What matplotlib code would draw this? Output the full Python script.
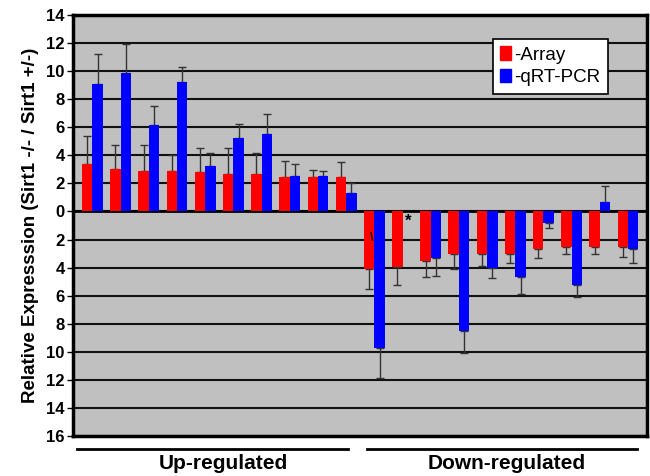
import numpy as np
import matplotlib
matplotlib.use("Agg")
import matplotlib.pyplot as plt
from matplotlib.lines import Line2D
from matplotlib.patches import Patch
from matplotlib.ticker import FuncFormatter

plt.rcParams["font.family"] = ["Liberation Sans", "DejaVu Sans"]

# --- data ---
array_vals = [3.4, 3.0, 2.9, 2.9, 2.8, 2.7, 2.7, 2.45, 2.45, 2.45,
              -4.1, -3.95, -3.5, -3.0, -3.0, -3.0, -2.65, -2.55, -2.5, -2.5]
array_err = [2.0, 1.75, 1.85, 1.1, 1.75, 1.85, 1.5, 1.15, 0.5, 1.05,
             1.45, 1.3, 1.2, 1.1, 0.9, 0.65, 0.65, 0.5, 0.55, 0.75]
pcr_vals = [9.05, 9.85, 6.15, 9.25, 3.25, 5.2, 5.55, 2.5, 2.5, 1.3,
            -9.75, np.nan, -3.35, -8.5, -4.0, -4.65, -0.8, -5.25, 0.65, -2.65]
pcr_err = [2.2, 2.05, 1.35, 1.05, 0.9, 1.05, 1.4, 0.9, 0.35, 0.75,
           2.1, np.nan, 1.25, 1.55, 0.75, 1.25, 0.4, 0.85, 1.15, 1.05]
series_names = ["-Array", "-qRT-PCR"]
group_names = ["Up-regulated", "Down-regulated"]

array_vals = np.array(array_vals)
array_err = np.array(array_err)
pcr_vals = np.array(pcr_vals)
pcr_err = np.array(pcr_err)
x = np.arange(len(array_vals))
w = 0.37


def one_sided(vals, err):
    # error bar only points away from zero
    lo = np.where(vals < 0, err, 0)
    hi = np.where(vals >= 0, err, 0)
    return [lo, hi]


fig = plt.figure(figsize=(6.5, 4.76), dpi=100)
ax = fig.add_axes([0.1123, 0.084, 0.883, 0.8845])
ax.set_facecolor("#c0c0c0")

ax.bar(x - w / 2, array_vals, w, color="#ff0000", zorder=3)
ax.bar(x + w / 2, pcr_vals, w, color="#0000ff", zorder=3)
ax.errorbar(x - w / 2, array_vals, yerr=one_sided(array_vals, array_err),
            fmt="none", ecolor="#333333", elinewidth=1, capsize=3, zorder=2)
ax.errorbar(x + w / 2, pcr_vals, yerr=one_sided(pcr_vals, pcr_err),
            fmt="none", ecolor="#333333", elinewidth=1, capsize=3, zorder=2)

# missing qRT-PCR value marked with an asterisk
ax.text(x[11] + w / 2, -0.15, "*", ha="center", va="top",
        fontsize=12, fontweight="bold", zorder=4)
ax.text(x[10] - w / 2 + 0.1, -1.9, "\\", ha="center", va="center",
        fontsize=9, fontweight="bold", zorder=4)

ax.set_ylim(-16, 14)
ax.set_xlim(-0.69, 19.67)
ax.set_yticks(np.arange(-16, 15, 2))
ax.yaxis.set_major_formatter(FuncFormatter(lambda v, p: f"{abs(v):.0f}"))
ax.set_xticks([])
ax.grid(axis="y", color="#111111", linewidth=1.5)
ax.set_axisbelow(True)
ax.axhline(0, color="black", linewidth=2, zorder=2.5)
for s in ax.spines.values():
    s.set_linewidth(2.5)
ax.tick_params(axis="y", length=4, width=1, labelsize=12, pad=2)
for lbl in ax.get_yticklabels():
    lbl.set_fontweight("bold")

ax.set_ylabel("Relative Expresssion (Sirt1 -/- / Sirt1 +/-)",
              fontsize=13.5, fontweight="bold", labelpad=5)

handles = [Patch(color="#ff0000"), Patch(color="#0000ff")]
leg = ax.legend(handles, series_names, loc="upper right",
                bbox_to_anchor=(0.932, 0.943), borderaxespad=0,
                fontsize=13.5, frameon=True, fancybox=False, framealpha=1,
                edgecolor="black", handlelength=0.55, handleheight=0.7,
                handletextpad=0.2, borderpad=0.4, labelspacing=0.3)
leg.get_frame().set_linewidth(1.2)

# group brackets under the axes
fig.add_artist(Line2D([77 / 650, 348 / 650], [0.0567, 0.0567],
                      color="black", linewidth=2))
fig.add_artist(Line2D([367 / 650, 637 / 650], [0.0567, 0.0567],
                      color="black", linewidth=2))
fig.text(223 / 650, 0.027, group_names[0], ha="center", va="center",
         fontsize=15, fontweight="bold")
fig.text(507 / 650, 0.027, group_names[1], ha="center", va="center",
         fontsize=15, fontweight="bold")

fig.savefig("out.png", dpi=100, facecolor="white")
